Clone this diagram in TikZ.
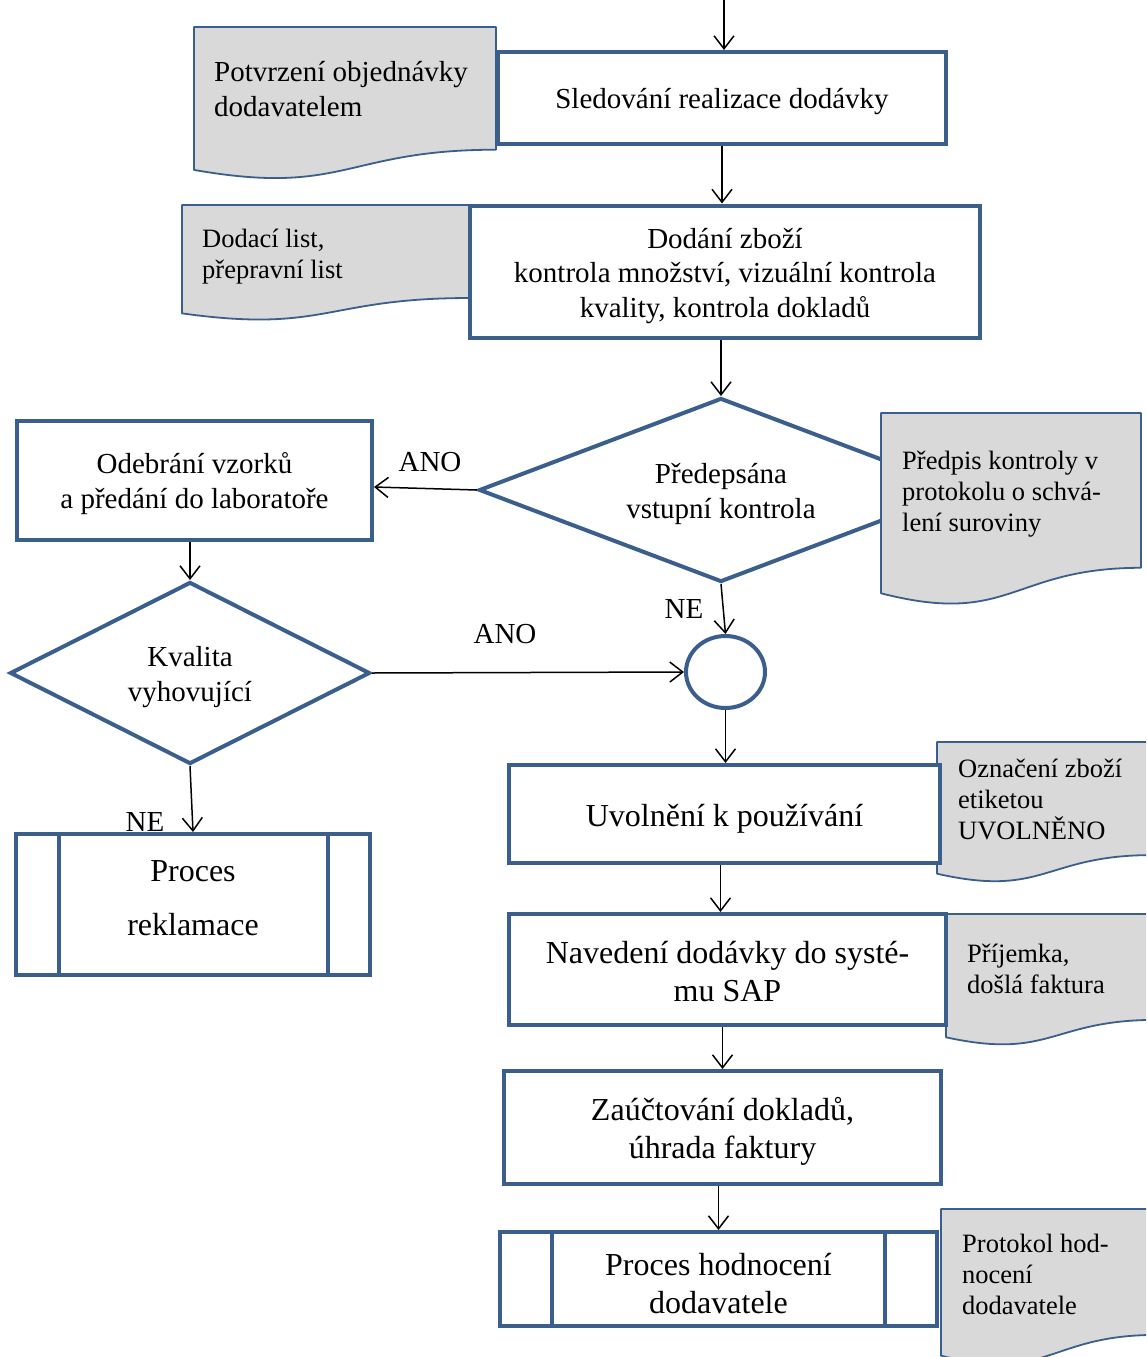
\documentclass[tikz,border=0pt]{standalone}
\usepackage{fontspec}
\setmainfont{Liberation Serif}
\usetikzlibrary{arrows.meta,shapes.geometric}
\definecolor{frame}{HTML}{3B5F8C}
\definecolor{docfill}{HTML}{D9D9D9}

% document symbol: left, top, width, height (wavy lower edge)
\newcommand\docsym[4]{%
  \draw[docedge] (#1,#2) -- ({#1+#3},#2) -- ({#1+#3},{#2+0.802*#4})
    .. controls ({#1+0.5*#3},{#2+0.802*#4}) and ({#1+0.5*#3},{#2+1.1075*#4})
    .. (#1,{#2+0.934*#4}) -- cycle;}

\begin{document}
\begin{tikzpicture}[x=1pt,y=-1pt,
  box/.style={draw=frame,line width=4pt,fill=white,rectangle,inner sep=0pt},
  boxtext/.style={inner sep=0pt,align=center,font=\fontsize{29}{34.5}\selectfont},
  bigtext/.style={boxtext,font=\fontsize{32}{38}\selectfont},
  decision/.style={draw=frame,line width=4pt,fill=white,diamond,inner sep=0pt},
  joint/.style={draw=frame,line width=4pt,fill=white,ellipse,inner sep=0pt},
  docedge/.style={draw=frame,line width=1.8pt,fill=docfill,line join=round},
  doctext/.style={anchor=west,inner sep=0pt,align=left,font=\fontsize{26.5}{31}\selectfont},
  lbl/.style={inner sep=0pt,font=\fontsize{29}{33}\selectfont},
  arr/.style={line width=1.5pt,-{Straight Barb[length=13pt,width=20pt,line width=1.5pt]}},
  sideline/.style={draw=frame,line width=4pt}]

\clip (0,0) rectangle (1146,1357);
\fill[white] (0,0) rectangle (1146,1357);

% supporting documents
\docsym{194}{27}{302}{153}
\node[doctext,font=\fontsize{29}{35}\selectfont] (t1) at (214,89.5) {Potvrzení objednávky\\dodavatelem};
\docsym{182}{205}{287}{116}
\node[doctext] (t2) at (202,256.5) {Dodací list,\\přepravní list};
\docsym{937}{742}{215}{141}
\node[doctext] (t4) at (958,799) {Označení zboží\\etiketou\\UVOLNĚNO};
\docsym{946}{914}{210}{132}
\node[doctext] (t5) at (967,968.5) {Příjemka,\\došlá faktura};
\docsym{941}{1209}{215}{157}
\node[doctext] (t6) at (962,1274.5) {Protokol hod-\\nocení\\dodavatele};

% process steps (frames, then their texts)
\node[box,minimum width=448,minimum height=92] (b1) at (722,98) {};
\node[boxtext] (b1t) at ([yshift=-4]b1.center) {Sledování realizace dodávky};
\node[box,minimum width=510,minimum height=132] (b2) at (725,271.5) {};
\node[boxtext] (b2t) at ([yshift=-4.5]b2.center)
  {Dodání zboží\\kontrola množství, vizuální kontrola\\kvality, kontrola dokladů};
\node[decision,aspect=2.6,minimum width=484,minimum height=184] (d1) at (721,490) {};
\node[boxtext] (d1t) at ([yshift=-4]d1.center) {Předepsána\\vstupní kontrola};
\node[box,minimum width=355,minimum height=119] (b3) at (194.5,480.5) {};
\node[boxtext] (b3t) at ([yshift=-3]b3.center) {Odebrání vzorků\\a předání do laboratoře};
\node[decision,aspect=2,minimum width=360,minimum height=182] (d2) at (190,673) {};
\node[boxtext] (d2t) at ([yshift=-4]d2.center) {Kvalita\\vyhovující};
\node[joint,minimum width=79,minimum height=72] (c) at (725.5,672) {};
\node[box,minimum width=431,minimum height=98] (b4) at (724.5,814) {};
\node[bigtext] (b4t) at ([yshift=-5]b4.center) {Uvolnění k používání};
\node[box,minimum width=437,minimum height=111] (b5) at (727.5,969.5) {};
\node[bigtext] (b5t) at ([yshift=-2]b5.center) {Navedení dodávky do systé-\\mu SAP};
\node[box,minimum width=437,minimum height=113] (b6) at (722.5,1127.5) {};
\node[bigtext] (b6t) at ([yshift=-4]b6.center) {Zaúčtování dokladů,\\úhrada faktury};
\node[box,minimum width=437,minimum height=94] (b7) at (718.5,1279) {};
\node[bigtext] (b7t) at ([yshift=-5]b7.center) {Proces hodnocení\\dodavatele};
\draw[sideline] ([xshift=54]b7.north west) -- ([xshift=54]b7.south west);
\draw[sideline] ([xshift=-54]b7.north east) -- ([xshift=-54]b7.south east);
\node[box,minimum width=354,minimum height=141] (b8) at (193,904.5) {};
\node[bigtext,font=\fontsize{32}{54}\selectfont] (b8t) at ([yshift=6]b8.center) {Proces\\reklamace};
\draw[sideline] ([xshift=45]b8.north west) -- ([xshift=45]b8.south west);
\draw[sideline] ([xshift=-44]b8.north east) -- ([xshift=-44]b8.south east);

% document beside the decision
\docsym{881}{413}{260}{193}
\node[doctext] (t3) at (902,494) {Předpis kontroly v\\protokolu o schvá-\\lení suroviny};

% connectors
\coordinate (in) at (724,-5);
\draw[arr] (in) -- (in |- b1.north);
\draw[arr] (b1.south) -- (b1.south |- b2.north);
\draw[arr] (d1.north |- b2.south) -- (d1.north);
\draw[arr] (d1.west) -- ([yshift=-6.5]b3.east);
\draw[arr] (d2.north |- b3.south) -- (d2.north);
\draw[arr] (d2.east) -- (c.west);
\draw[arr] (d1.south) -- (c.north);
\draw[arr] (c.south) -- (c.south |- b4.north);
\draw[arr] ([xshift=-4]b4.south) -- ([xshift=-4]b4.south |- b5.north);
\draw[arr] (b6.north |- b5.south) -- (b6.north);
\draw[arr] (b7.north |- b6.south) -- (b7.north);
\draw[arr] (d2.south) -- (b8.north);

% branch labels
\node[lbl] (l1) at (430,462) {ANO};
\node[lbl] (l2) at (505,634) {ANO};
\node[lbl] (l3) at (684,609) {NE};
\node[lbl] (l4) at (145,822) {NE};
\end{tikzpicture}
\end{document}
